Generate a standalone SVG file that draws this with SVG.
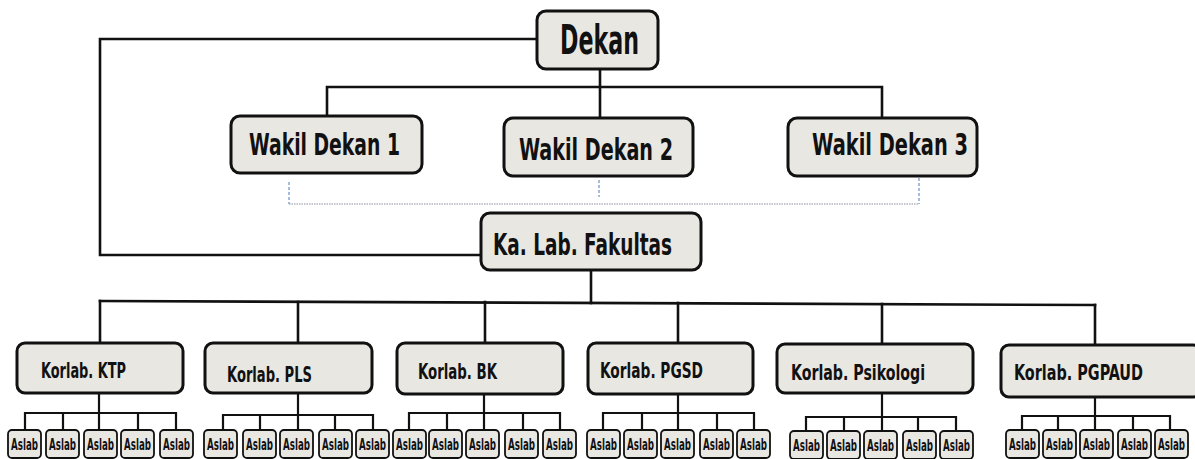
<svg xmlns="http://www.w3.org/2000/svg" width="1195" height="459" viewBox="0 0 1195 459">
  <style>
    .box { fill: #e9e7e1; stroke: #111; stroke-width: 3; }
    .small { fill: #e9e7e1; stroke: #111; stroke-width: 1.8; }
    .lbl { font-family: "DejaVu Sans Condensed", "Liberation Sans", sans-serif; font-weight: bold; fill: #111; }
    .link { fill: none; stroke: #111; stroke-width: 2.6; stroke-linecap: square; }
    .thin { fill: none; stroke: #111; stroke-width: 2.2; }
    .dotted { fill: none; stroke: #8a8f99; stroke-width: 1; stroke-dasharray: 1.5 1; }
    .dashblue { fill: none; stroke: #4a78b8; stroke-width: 1; stroke-dasharray: 3 2; }
  </style>
  <rect width="1195" height="459" fill="#fff"/>

  <!-- connectors -->
  <g id="connectors">
    <!-- Dekan to Ka. Lab (left loop) -->
    <polyline class="link" points="536,39 100,39 100,255 481,255"/>
    <!-- Dekan to Wakil Dekan -->
    <line class="link" x1="600" y1="69" x2="600" y2="117"/>
    <polyline class="link" points="327,115 327,87 882,87 882,117"/>
    <!-- Wakil Dekan coordination (dotted) -->
    <line class="dashblue" x1="289" y1="182" x2="289" y2="204"/>
    <line class="dashblue" x1="599" y1="180" x2="599" y2="197"/>
    <line class="dashblue" x1="919" y1="178" x2="919" y2="204"/>
    <line class="dotted" x1="289" y1="204" x2="919" y2="204"/>
    <!-- Ka. Lab to Korlab -->
    <line class="link" x1="591" y1="270" x2="591" y2="303"/>
    <line class="link" x1="100" y1="301" x2="1095" y2="305"/>
    <line class="link" x1="100" y1="301" x2="100" y2="343"/>
    <line class="link" x1="298" y1="302" x2="298" y2="343"/>
    <line class="link" x1="485" y1="302" x2="485" y2="343"/>
    <line class="link" x1="678" y1="303" x2="678" y2="343"/>
    <line class="link" x1="882" y1="304" x2="882" y2="344"/>
    <line class="link" x1="1095" y1="305" x2="1095" y2="345"/>
    <!-- Korlab KTP to Aslab -->
    <line class="thin" x1="99" y1="393" x2="99" y2="413"/>
    <path class="thin" d="M25,430V413H176V430M63,413V430M99,413V430M138,413V430"/>
    <!-- Korlab PLS to Aslab -->
    <line class="thin" x1="298" y1="393" x2="298" y2="415"/>
    <path class="thin" d="M223,430V415H373V430M260,415V430M298,415V430M335,415V430"/>
    <!-- Korlab BK to Aslab -->
    <line class="thin" x1="484" y1="394" x2="484" y2="413"/>
    <path class="thin" d="M409,430V413H560V430M447,413V430M484,413V430M523,413V430"/>
    <!-- Korlab PGSD to Aslab -->
    <line class="thin" x1="678" y1="394" x2="678" y2="413"/>
    <path class="thin" d="M603,430V413H754V430M642,413V430M678,413V430M717,413V430"/>
    <!-- Korlab Psikologi to Aslab -->
    <line class="thin" x1="882" y1="393" x2="882" y2="417"/>
    <path class="thin" d="M806,431V417H956V431M844,417V431M882,417V431M918,417V431"/>
    <!-- Korlab PGPAUD to Aslab -->
    <line class="thin" x1="1095" y1="397" x2="1095" y2="416"/>
    <path class="thin" d="M1022,430V416H1170V430M1058,416V430M1095,416V430M1133,416V430"/>
  </g>

  <!-- top level -->
  <g id="dekan">
    <rect class="box" x="537" y="11" width="121" height="58" rx="9"/>
    <text class="lbl" x="560" y="54" font-size="40" textLength="79" lengthAdjust="spacingAndGlyphs">Dekan</text>
  </g>

  <g id="wakil-dekan-1">
    <rect class="box" x="231" y="116" width="191" height="57" rx="9"/>
    <text class="lbl" x="249" y="155" font-size="30" textLength="151" lengthAdjust="spacingAndGlyphs">Wakil Dekan 1</text>
  </g>
  <g id="wakil-dekan-2">
    <rect class="box" x="504" y="118" width="189" height="58" rx="9"/>
    <text class="lbl" x="519" y="160" font-size="30" textLength="154" lengthAdjust="spacingAndGlyphs">Wakil Dekan 2</text>
  </g>
  <g id="wakil-dekan-3">
    <rect class="box" x="788" y="118" width="189" height="58" rx="9"/>
    <text class="lbl" x="812" y="155" font-size="30" textLength="156" lengthAdjust="spacingAndGlyphs">Wakil Dekan 3</text>
  </g>

  <g id="ka-lab-fakultas">
    <rect class="box" x="481" y="213" width="220" height="57" rx="9"/>
    <text class="lbl" x="493" y="255" font-size="31" textLength="179" lengthAdjust="spacingAndGlyphs">Ka. Lab. Fakultas</text>
  </g>

  <!-- coordinators -->
  <g id="korlab-ktp">
    <rect class="box" x="17" y="343" width="166" height="50" rx="8"/>
    <text class="lbl" x="41" y="378" font-size="21" textLength="85" lengthAdjust="spacingAndGlyphs">Korlab. KTP</text>
  </g>
  <g id="korlab-pls">
    <rect class="box" x="205" y="343" width="167" height="50" rx="8"/>
    <text class="lbl" x="227" y="382" font-size="21" textLength="85" lengthAdjust="spacingAndGlyphs">Korlab. PLS</text>
  </g>
  <g id="korlab-bk">
    <rect class="box" x="397" y="343" width="166" height="51" rx="8"/>
    <text class="lbl" x="418" y="379" font-size="21" textLength="79" lengthAdjust="spacingAndGlyphs">Korlab. BK</text>
  </g>
  <g id="korlab-pgsd">
    <rect class="box" x="588" y="343" width="165" height="51" rx="8"/>
    <text class="lbl" x="600" y="378" font-size="21" textLength="103" lengthAdjust="spacingAndGlyphs">Korlab. PGSD</text>
  </g>
  <g id="korlab-psikologi">
    <rect class="box" x="777" y="344" width="196" height="49" rx="8"/>
    <text class="lbl" x="791" y="380" font-size="21" textLength="134" lengthAdjust="spacingAndGlyphs">Korlab.  Psikologi</text>
  </g>
  <g id="korlab-pgpaud">
    <rect class="box" x="1001" y="345" width="200" height="52" rx="8"/>
    <text class="lbl" x="1014" y="380" font-size="21" textLength="129" lengthAdjust="spacingAndGlyphs">Korlab.  PGPAUD</text>
  </g>

  <!-- assistants -->
  <defs>
    <g id="aslab">
      <rect class="small" x="0" y="0" width="33" height="28" rx="4"/>
      <text class="lbl" x="16.5" y="20" font-size="15" text-anchor="middle" textLength="27" lengthAdjust="spacingAndGlyphs">Aslab</text>
    </g>
  </defs>
  <g id="aslab-ktp">
    <use href="#aslab" x="8" y="430"/>
    <use href="#aslab" x="46" y="430"/>
    <use href="#aslab" x="84" y="430"/>
    <use href="#aslab" x="121" y="430"/>
    <use href="#aslab" x="160" y="430"/>
  </g>
  <g id="aslab-pls">
    <use href="#aslab" x="204" y="430"/>
    <use href="#aslab" x="243" y="430"/>
    <use href="#aslab" x="280" y="430"/>
    <use href="#aslab" x="319" y="430"/>
    <use href="#aslab" x="356" y="430"/>
  </g>
  <g id="aslab-bk">
    <use href="#aslab" x="393" y="430"/>
    <use href="#aslab" x="429" y="430"/>
    <use href="#aslab" x="466" y="430"/>
    <use href="#aslab" x="505" y="430"/>
    <use href="#aslab" x="543" y="430"/>
  </g>
  <g id="aslab-pgsd">
    <use href="#aslab" x="587" y="430"/>
    <use href="#aslab" x="624" y="430"/>
    <use href="#aslab" x="661" y="430"/>
    <use href="#aslab" x="700" y="430"/>
    <use href="#aslab" x="737" y="430"/>
  </g>
  <g id="aslab-psikologi">
    <use href="#aslab" x="790" y="431"/>
    <use href="#aslab" x="827" y="431"/>
    <use href="#aslab" x="864" y="431"/>
    <use href="#aslab" x="903" y="431"/>
    <use href="#aslab" x="940" y="431"/>
  </g>
  <g id="aslab-pgpaud">
    <use href="#aslab" x="1006" y="430"/>
    <use href="#aslab" x="1043" y="430"/>
    <use href="#aslab" x="1080" y="430"/>
    <use href="#aslab" x="1118" y="430"/>
    <use href="#aslab" x="1155" y="430"/>
  </g>
</svg>
